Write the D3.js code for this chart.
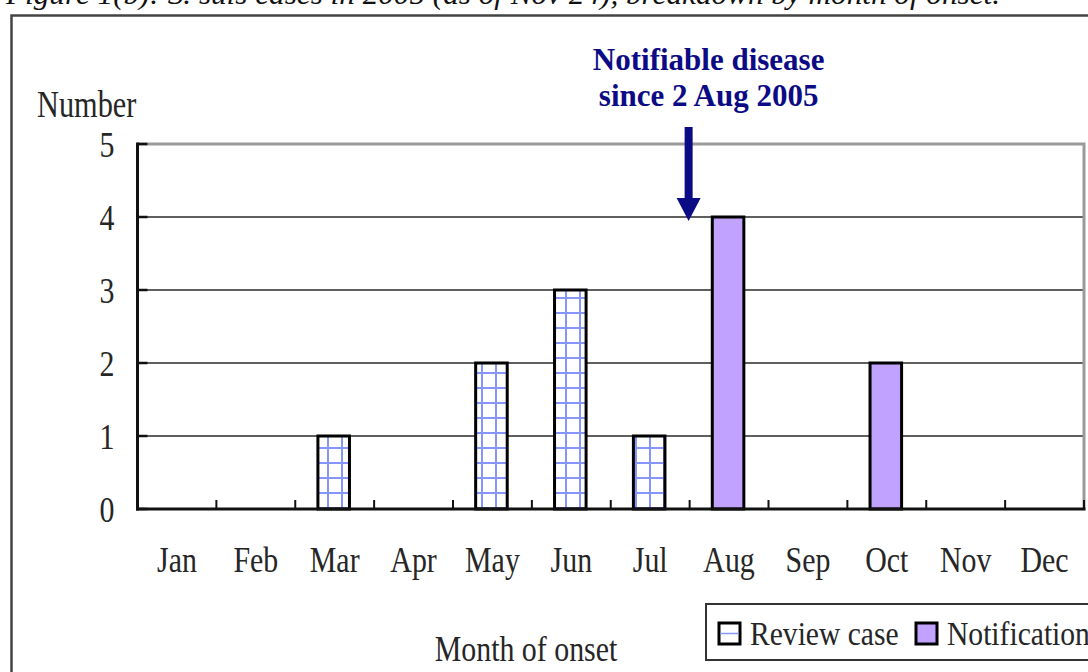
<!DOCTYPE html>
<html><head><meta charset="utf-8">
<script src="https://cdn.jsdelivr.net/npm/d3@7"></script>
<style>html,body{margin:0;padding:0;background:#fff;overflow:hidden}svg{display:block}</style>
</head><body>
<script>
const months = ["Jan","Feb","Mar","Apr","May","Jun","Jul","Aug","Sep","Oct","Nov","Dec"];
const reviewCases = [0,0,1,0,2,3,1,0,0,0,0,0];
const notifications = [0,0,0,0,0,0,0,4,0,2,0,0];
const yTicks = [0,1,2,3,4,5];
const titleText = "Figure 1(b): S. suis cases in 2005 (as of Nov 24), breakdown by month of onset.";
const annotationLines = ["Notifiable disease","since 2 Aug 2005"];
const legendLabels = ["Review case","Notification"];

(function(){
const W = 1088, H = 672;
const svg = d3.select("body").append("svg").attr("width",W).attr("height",H);
const serif = "'Liberation Serif','DejaVu Serif',serif";
const txtColor = "#262626";

const defs = svg.append("defs");
const pat = defs.append("pattern").attr("id","grid").attr("patternUnits","userSpaceOnUse")
  .attr("width",14).attr("height",15).attr("x",321).attr("y",6);
pat.append("rect").attr("width",14).attr("height",15).attr("fill","#fff");
pat.append("line").attr("x1",7).attr("x2",7).attr("y1",0).attr("y2",15).attr("stroke","#8796ff").attr("stroke-width",2);
pat.append("line").attr("x1",0).attr("x2",14).attr("y1",7).attr("y2",7).attr("stroke","#8796ff").attr("stroke-width",2);

// outer frame
svg.append("rect").attr("x",11.5).attr("y",15.5).attr("width",1200).attr("height",800)
  .attr("fill","none").attr("stroke","#444").attr("stroke-width",2.5);

// title (cut off at top, as in the reference)
svg.append("text").attr("x",6).attr("y",4).attr("font-family",serif).attr("font-style","italic")
  .attr("font-size",30).attr("fill","#111").attr("textLength",994).attr("lengthAdjust","spacingAndGlyphs")
  .text(titleText);

const pl = 137.5, pr = 1084, pt = 144, pb = 509;
const x = d3.scaleBand().domain(months).range([pl,pr]).padding(0);
const y = d3.scaleLinear().domain([0,5]).range([pb,pt]);

// gridlines
svg.append("g").selectAll("line").data(yTicks.filter(d=>d>0 && d<5)).join("line")
  .attr("x1",pl).attr("x2",pr).attr("y1",d=>y(d)).attr("y2",d=>y(d))
  .attr("stroke","#2a2a2a").attr("stroke-width",1.6);

// plot border top/right (gray)
svg.append("path").attr("d",`M${pl},${y(5)}H${pr}V${pb}`).attr("fill","none")
  .attr("stroke","#9a9a9a").attr("stroke-width",3);

// bars
const bw = x.bandwidth()*0.4;
const rev = months.map((m,i)=>({m,v:reviewCases[i]})).filter(d=>d.v>0);
const noti = months.map((m,i)=>({m,v:notifications[i]})).filter(d=>d.v>0);
svg.append("g").selectAll("rect").data(rev).join("rect")
  .attr("x",d=>x(d.m)+x.bandwidth()/2-bw/2-1).attr("width",bw)
  .attr("y",d=>y(d.v)).attr("height",d=>y(0)-y(d.v))
  .attr("fill","url(#grid)").attr("stroke","#000").attr("stroke-width",3);
svg.append("g").selectAll("rect").data(noti).join("rect")
  .attr("x",d=>x(d.m)+x.bandwidth()/2-bw/2-1).attr("width",bw)
  .attr("y",d=>y(d.v)).attr("height",d=>y(0)-y(d.v))
  .attr("fill","#c2a2ff").attr("stroke","#000").attr("stroke-width",3);

// axes
const xAxis = svg.append("g").attr("transform",`translate(0,${pb})`)
  .call(d3.axisBottom(x).tickSize(0).tickPadding(0));
xAxis.select(".domain").remove();
xAxis.selectAll("text").attr("y",null).attr("dy",null)
  .attr("transform","translate(0,63) scale(0.83,1)")
  .attr("font-family",serif).attr("font-size",36).attr("fill",txtColor);

// x boundary ticks (inside)
svg.append("g").selectAll("line").data(d3.range(months.length+1)).join("line")
  .attr("x1",i=>pl+i*x.step()).attr("x2",i=>pl+i*x.step())
  .attr("y1",pb).attr("y2",pb-9).attr("stroke","#111").attr("stroke-width",2);

const yAxis = svg.append("g").attr("transform",`translate(${pl},0)`)
  .call(d3.axisLeft(y).tickValues(yTicks).tickFormat(d3.format("d")).tickSize(0).tickPadding(0));
yAxis.select(".domain").remove();
yAxis.selectAll("text").attr("x",null).attr("dy",null)
  .attr("transform","translate(-23,12) scale(0.83,1)")
  .attr("font-family",serif).attr("font-size",36).attr("fill",txtColor);
// y ticks inside
svg.append("g").selectAll("line").data(yTicks).join("line")
  .attr("x1",pl).attr("x2",pl+10).attr("y1",d=>y(d)).attr("y2",d=>y(d))
  .attr("stroke","#111").attr("stroke-width",2.5);

// axis lines
svg.append("line").attr("x1",pl).attr("x2",pl).attr("y1",pt-1.5).attr("y2",pb+1.5)
  .attr("stroke","#111").attr("stroke-width",3);
svg.append("line").attr("x1",pl-1.5).attr("x2",pr+1.5).attr("y1",pb).attr("y2",pb)
  .attr("stroke","#111").attr("stroke-width",3);

// axis titles
svg.append("text").attr("transform","translate(37,117) scale(0.82,1)")
  .attr("font-family",serif).attr("font-size",37).attr("fill",txtColor).text("Number");
svg.append("text").attr("transform","translate(526,661) scale(0.83,1)").attr("text-anchor","middle")
  .attr("font-family",serif).attr("font-size",36).attr("fill",txtColor).text("Month of onset");

// annotation
const annX = x("Aug") + 19;
const ann = svg.append("g");
ann.selectAll("text").data(annotationLines).join("text")
  .attr("x",annX).attr("y",(d,i)=>70+i*36).attr("text-anchor","middle")
  .attr("font-family",serif).attr("font-weight","bold").attr("font-size",31).attr("fill","#0b0b86")
  .text(d=>d);
const ax = x("Aug") - 1;
ann.append("rect").attr("x",ax-4).attr("y",127).attr("width",8).attr("height",74).attr("fill","#0b0b86");
ann.append("path").attr("d",`M${ax-12},198L${ax+12},198L${ax},221Z`).attr("fill","#0b0b86");

// legend
const lg = svg.append("g");
lg.append("rect").attr("x",706).attr("y",604).attr("width",500).attr("height",56)
  .attr("fill","#fff").attr("stroke","#333").attr("stroke-width",2);
lg.append("rect").attr("x",719).attr("y",623).attr("width",21).attr("height",21)
  .attr("fill","#fff").attr("stroke","#000").attr("stroke-width",3);
lg.append("line").attr("x1",720.5).attr("x2",738.5).attr("y1",633.5).attr("y2",633.5)
  .attr("stroke","#8796ff").attr("stroke-width",1.5);
lg.append("rect").attr("x",916).attr("y",623).attr("width",21).attr("height",21)
  .attr("fill","#c2a2ff").attr("stroke","#000").attr("stroke-width",3);
lg.selectAll("text.lab").data(legendLabels).join("text").attr("class","lab")
  .attr("transform",(d,i)=>`translate(${i===0?750:947},645) scale(0.87,1)`)
  .attr("font-family",serif).attr("font-size",34).attr("fill",txtColor).text(d=>d);
})();
</script>
</body></html>
